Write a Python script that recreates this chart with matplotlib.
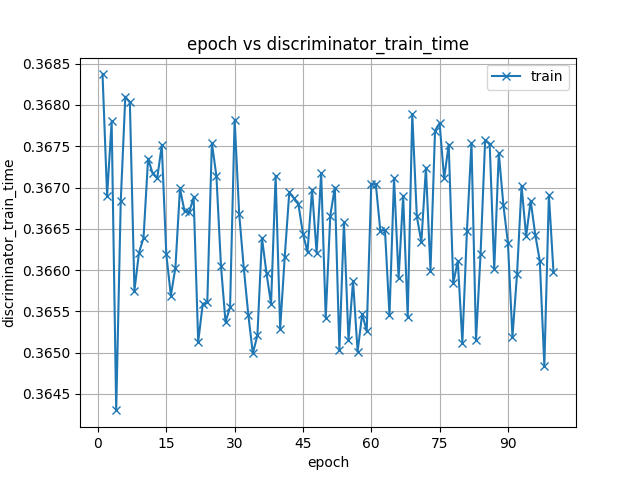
import numpy as np
import matplotlib
matplotlib.use("Agg")
import matplotlib.pyplot as plt

# discriminator train time per epoch
epochs = list(range(1, 101))
train_time = [
    0.36837, 0.36690, 0.36780, 0.36430, 0.36684, 0.36810, 0.36803, 0.36575, 0.36621, 0.36639,
    0.36735, 0.36717, 0.36711, 0.36751, 0.36619, 0.36569, 0.36603, 0.36699, 0.36671, 0.36670,
    0.36688, 0.36513, 0.36559, 0.36561, 0.36754, 0.36714, 0.36605, 0.36537, 0.36555, 0.36782,
    0.36668, 0.36603, 0.36546, 0.36499, 0.36521, 0.36639, 0.36596, 0.36559, 0.36714, 0.36529,
    0.36616, 0.36694, 0.36687, 0.36680, 0.36644, 0.36622, 0.36697, 0.36621, 0.36717, 0.36542,
    0.36666, 0.36700, 0.36503, 0.36658, 0.36515, 0.36587, 0.36501, 0.36547, 0.36526, 0.36704,
    0.36704, 0.36647, 0.36649, 0.36545, 0.36711, 0.36590, 0.36690, 0.36543, 0.36789, 0.36665,
    0.36634, 0.36724, 0.36599, 0.36769, 0.36778, 0.36711, 0.36752, 0.36584, 0.36611, 0.36512,
    0.36647, 0.36754, 0.36515, 0.36620, 0.36757, 0.36753, 0.36601, 0.36742, 0.36679, 0.36633,
    0.36519, 0.36595, 0.36702, 0.36641, 0.36684, 0.36643, 0.36611, 0.36484, 0.36691, 0.36598,
]

fig, ax = plt.subplots(figsize=(6.4, 4.8), dpi=100)
ax.plot(epochs, train_time, marker='x', label='train')
ax.set_xticks(np.arange(0, 100, 15))
ax.set_title('epoch vs discriminator_train_time')
ax.set_xlabel('epoch')
ax.set_ylabel('discriminator_train_time')
ax.grid(True)
ax.legend(loc='upper right')
fig.savefig('out.png')
